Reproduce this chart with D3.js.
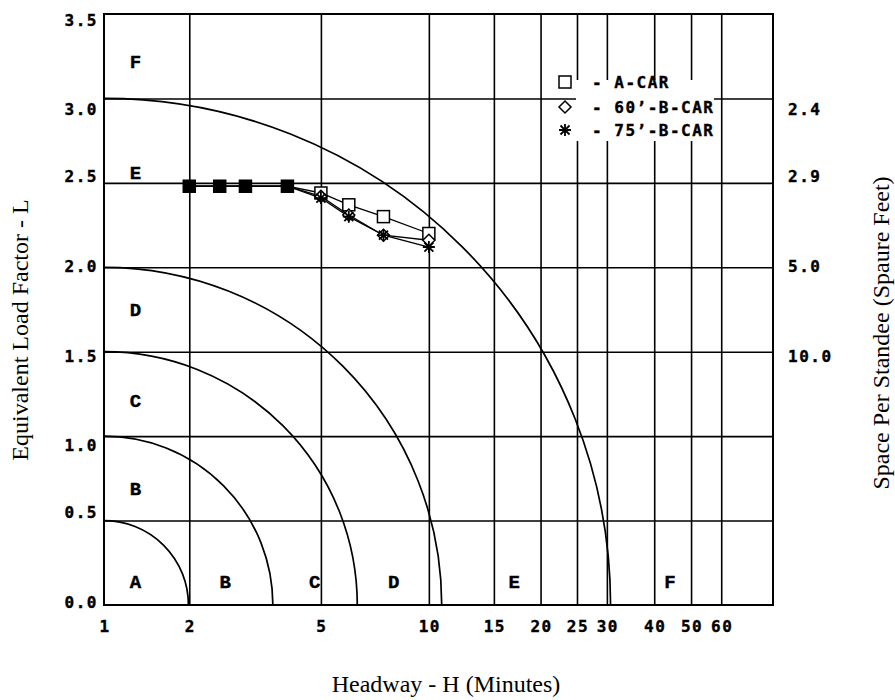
<!DOCTYPE html>
<html>
<head>
<meta charset="utf-8">
<title>Equivalent Load Factor vs Headway</title>
<script src="https://cdn.jsdelivr.net/npm/d3@7"></script>
<style>
body { margin: 0; background: white; }
.mono { font-family: "DejaVu Sans Mono", monospace; font-weight: bold; font-size: 16px; letter-spacing: 1.5px; fill: black; stroke: black; stroke-width: 0.4; }
.zone { font-family: "Liberation Mono", monospace; font-weight: bold; font-size: 19px; fill: black; stroke: black; stroke-width: 0.4; }
.title { font-family: "Liberation Serif", "Times New Roman", serif; font-size: 24px; fill: black; }
.grid line { stroke: black; stroke-width: 1.6; }
.grid path { display: none; }
</style>
</head>
<body>
<svg id="chart" width="895" height="700"></svg>
<script>
// headways (minutes) where the cars were measured
var headway = [2, 2.5, 3, 4, 5, 6, 7.5, 10];
var seriesNames = ["A-CAR", "60’-B-CAR", "75’-B-CAR"];
var aCar   = [2.48, 2.48, 2.48, 2.48, 2.44, 2.37, 2.30, 2.20];
var b60Car = [2.48, 2.48, 2.48, 2.48, 2.42, 2.31, 2.19, 2.16];
var b75Car = [2.48, 2.48, 2.48, 2.48, 2.41, 2.30, 2.19, 2.12];

var xTicks = [1, 2, 5, 10, 15, 20, 25, 30, 40, 50, 60];
var yTicks = [0, 0.5, 1, 1.5, 2, 2.5, 3, 3.5];
var spaceLabels = ["2.4", "2.9", "5.0", "10.0"];
var spaceAt = [3.0, 2.5, 2.0, 1.5];

// level of service boundaries (load factor at H = 1)
var zoneRadii = [0.5, 1, 1.5, 2, 3];
var sideZones = ["F", "E", "D", "C", "B"];
var sideZoneL = [3.21, 2.55, 1.74, 1.2, 0.68];
var bottomZones = ["A", "B", "C", "D", "E", "F"];
var bottomZoneH = [1.31, 2.6, 4.8, 8, 17, 44];

var pLeft = 104, pRight = 773, pTop = 14, pBottom = 605;
var svg = d3.select("#chart");

var x = d3.scaleSymlog().constant(0.5).domain([1, 82]).range([pLeft, pRight]);
var y = d3.scaleLinear().domain([0, 3.5]).range([pBottom, pTop]);

// the original was printed on a text screen: labels sit on character rows
var ROW = 22.4, ROW0 = 20;
function row(v) { return ROW0 + Math.round((y(v) - ROW0) / ROW) * ROW; }

// grid
svg.append("g").attr("class", "grid")
  .attr("transform", "translate(0," + pBottom + ")")
  .call(d3.axisBottom(x).tickValues(xTicks.slice(1)).tickSize(-(pBottom - pTop)).tickFormat(""));
svg.append("g").attr("class", "grid")
  .attr("transform", "translate(" + pLeft + ",0)")
  .call(d3.axisLeft(y).tickValues(yTicks.slice(1, -1)).tickSize(-(pRight - pLeft)).tickFormat(""));

// zone arcs
var cx = x(1), cy = y(0);
zoneRadii.forEach(function(r) {
  var R = y(0) - y(r);
  var p = d3.path();
  p.moveTo(cx, cy - R);
  p.arc(cx, cy, R, -Math.PI / 2, 0);
  svg.append("path").attr("d", p.toString())
    .attr("fill", "none").attr("stroke", "black").attr("stroke-width", 1.7);
});

svg.append("rect").attr("x", pLeft).attr("y", pTop)
  .attr("width", pRight - pLeft).attr("height", pBottom - pTop)
  .attr("fill", "none").attr("stroke", "black").attr("stroke-width", 2);

// tick labels
svg.selectAll(".ylab").data(yTicks).enter().append("text")
  .attr("class", "mono").attr("x", pLeft - 6).attr("y", function(d) { return row(d); })
  .attr("text-anchor", "end").attr("dominant-baseline", "central")
  .text(function(d) { return d3.format(".1f")(d); });

svg.selectAll(".xlab").data(xTicks).enter().append("text")
  .attr("class", "mono").attr("x", function(d) { return x(d) + 1; }).attr("y", pBottom + 21)
  .attr("text-anchor", "middle").attr("dominant-baseline", "central")
  .text(function(d) { return d; });

svg.selectAll(".rlab").data(spaceLabels).enter().append("text")
  .attr("class", "mono").attr("x", pRight + 15).attr("y", function(d, i) { return row(spaceAt[i]); })
  .attr("dominant-baseline", "central")
  .text(function(d) { return d; });

// zone letters
svg.selectAll(".sz").data(sideZones).enter().append("text")
  .attr("class", "zone").attr("x", x(1.31)).attr("y", function(d, i) { return y(sideZoneL[i]); })
  .attr("text-anchor", "middle").attr("dominant-baseline", "central")
  .text(function(d) { return d; });
svg.selectAll(".bz").data(bottomZones).enter().append("text")
  .attr("class", "zone").attr("x", function(d, i) { return x(bottomZoneH[i]); }).attr("y", y(0.13))
  .attr("text-anchor", "middle").attr("dominant-baseline", "central")
  .text(function(d) { return d; });

// markers
function marker(g, kind, px, py, filled) {
  if (kind == 0) {
    g.append("rect").attr("x", px - 6).attr("y", py - 6).attr("width", 12).attr("height", 12)
      .attr("fill", filled ? "black" : "white").attr("stroke", "black").attr("stroke-width", 1.5);
  } else if (kind == 1) {
    g.append("path").attr("d", "M" + px + "," + (py - 6) + "L" + (px + 6) + "," + py + "L" + px + "," + (py + 6) + "L" + (px - 6) + "," + py + "Z")
      .attr("fill", "white").attr("stroke", "black").attr("stroke-width", 1.5);
  } else {
    var s = 6, d = 4.5;
    g.append("path").attr("d", "M" + px + "," + (py - s) + "V" + (py + s) +
        "M" + (px - s) + "," + py + "H" + (px + s) +
        "M" + (px - d) + "," + (py - d) + "L" + (px + d) + "," + (py + d) +
        "M" + (px - d) + "," + (py + d) + "L" + (px + d) + "," + (py - d))
      .attr("stroke", "black").attr("stroke-width", 1.8);
  }
}

var series = [aCar, b60Car, b75Car];
var line = d3.line().x(function(d) { return x(d[0]); }).y(function(d) { return y(d[1]); });
series.forEach(function(vals) {
  svg.append("path").datum(headway.map(function(h, i) { return [h, vals[i]]; }))
    .attr("d", line).attr("fill", "none").attr("stroke", "black").attr("stroke-width", 1.3);
});
var pts = svg.append("g");
headway.forEach(function(h, i) {
  var same = aCar[i] == b60Car[i] && aCar[i] == b75Car[i];
  if (same) { marker(pts, 0, x(h), y(aCar[i]), true); return; }
  series.forEach(function(vals, k) { marker(pts, k, x(h), y(vals[i]), false); });
});

// legend
var leg = svg.append("g");
leg.append("rect").attr("x", 576).attr("y", 80).attr("width", 138).attr("height", 61).attr("fill", "white");
[82, 107, 130].forEach(function(ly, k) {
  marker(leg, k, 565, ly, false);
  leg.append("text").attr("class", "mono").attr("x", 592).attr("y", ly)
    .attr("dominant-baseline", "central").text("- " + seriesNames[k]);
});

// axis titles
svg.append("text").attr("class", "title").attr("transform", "translate(28,330) rotate(-90)")
  .attr("text-anchor", "middle").text("Equivalent Load Factor - L");
svg.append("text").attr("class", "title").attr("transform", "translate(889,333) rotate(-90)")
  .attr("text-anchor", "middle").text("Space Per Standee (Spaure Feet)");
svg.append("text").attr("class", "title").attr("x", 446).attr("y", 692)
  .attr("text-anchor", "middle").text("Headway - H (Minutes)");
</script>
</body>
</html>
